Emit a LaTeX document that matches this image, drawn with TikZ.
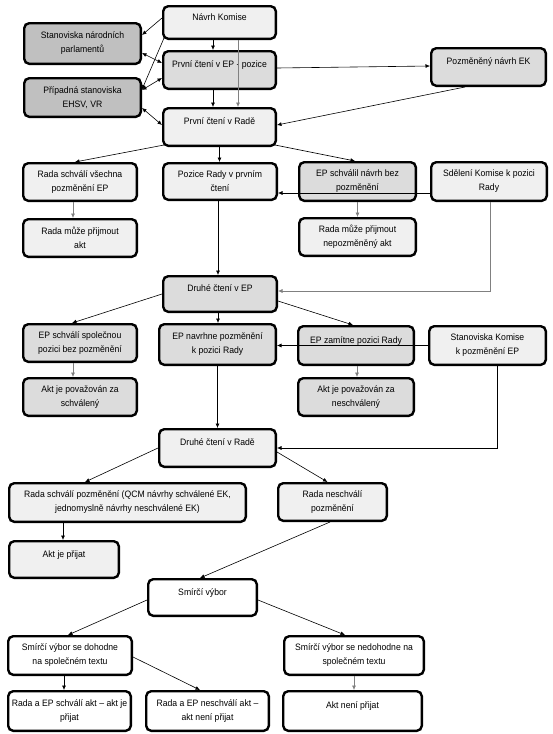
\documentclass[tikz,border=0pt]{standalone}
\usepackage{fontspec}
\setmainfont{Liberation Sans}[FakeStretch=0.93]
\usetikzlibrary{arrows.meta}
\definecolor{lightfill}{HTML}{F0F0F0}
\definecolor{midfill}{HTML}{DCDCDC}
\definecolor{darkfill}{HTML}{C0C0C0}
\definecolor{greyline}{HTML}{808080}

\begin{document}
\begin{tikzpicture}[x=1pt, y=-1pt, ->, >={Latex[length=4.5pt,width=4pt]}, line width=0.6pt,
    box/.style={draw, line width=2.4pt, rounded corners=5pt, align=center, inner sep=2pt,
      font=\fontsize{9.3}{14}\selectfont},
    sz/.style 2 args={minimum width=#1pt-2.4pt, minimum height=#2pt-2.4pt},
    light/.style={box, fill=lightfill},
    mid/.style={box, fill=midfill},
    dark/.style={box, fill=darkfill},
    plain/.style={box, fill=white},
    oneline/.style={text height=7pt, text depth=12pt},
    faint/.style={draw=greyline}]

  \useasboundingbox (0,0) rectangle (552,734);

  % Nodes
  \node[light, oneline, sz={115}{35}] (nk) at (219.5,22.5) {Návrh Komise};
  \node[dark, sz={119}{43}] (snp) at (82.5,43.5) {Stanoviska národních\\parlamentů};
  \node[dark, sz={119}{41}] (ps) at (82.5,97.5) {Případná stanoviska\\EHSV, VR};
  \node[mid, oneline, sz={115}{40}] (pep) at (219.5,70) {První čtení v EP - pozice};
  \node[mid, oneline, sz={117}{40}] (pne) at (488.5,67) {Pozměněný návrh EK};
  \node[light, oneline, sz={115}{40}] (prr) at (219.5,127) {První čtení v Radě};

  \node[light, sz={116}{40}] (rsv) at (80,182) {Rada schválí všechna\\pozměnění EP};
  \node[light, sz={116}{40}] (rma) at (80,238) {Rada může přijmout\\akt};
  \node[light, sz={116}{39}] (pr1) at (220,181.5) {Pozice Rady v prvním\\čtení};
  \node[mid, sz={119}{41}] (eps) at (357.5,181.5) {EP schválil návrh bez\\pozměnění};
  \node[light, sz={119}{40}] (rmn) at (357.5,237) {Rada může přijmout\\nepozměněný akt};
  \node[light, sz={118}{41}] (skr) at (489,181.5) {Sdělení Komise k pozici\\Rady};

  \node[mid, oneline, sz={116}{38}] (dep) at (220,294) {Druhé čtení v EP};
  \node[mid, sz={116}{40}] (eps2) at (80,343) {EP schválí společnou\\pozici bez pozměnění};
  \node[mid, sz={116}{40}] (aps) at (80,397) {Akt je považován za\\schválený};
  \node[mid, sz={119}{43}] (epn) at (217.5,344.5) {EP navrhne pozměnění\\k pozici Rady};
  \node[mid, oneline, sz={118}{41}] (epz) at (356,345.5) {EP zamítne pozici Rady};
  \node[mid, sz={118}{40}] (apn) at (356,397) {Akt je považován za\\neschválený};
  \node[light, sz={119}{41}] (skp) at (487.5,345.5) {Stanoviska Komise\\k pozměnění EP};

  \node[light, oneline, sz={119}{40}] (dr) at (217.5,448) {Druhé čtení v Radě};
  \node[light, sz={239}{41}] (rsp) at (127.5,502.5) {Rada schválí pozměnění (QCM návrhy schválené EK,\\jednomyslně návrhy neschválené EK)};
  \node[light, sz={111}{40}] (rnp) at (332.5,502) {Rada neschválí\\pozměnění};
  \node[light, oneline, sz={112}{39}] (ajp) at (64,559.5) {Akt je přijat};
  \node[plain, oneline, sz={111}{39}] (sv) at (202.5,597.5) {Smírčí výbor};

  \node[plain, sz={126}{41}] (svd) at (70,655.5) {Smírčí výbor se dohodne\\na společném textu};
  \node[plain, sz={142}{41}] (svn) at (354,655.5) {Smírčí výbor se nedohodne na\\společném textu};
  \node[plain, sz={125}{42}] (res) at (69.5,711) {Rada a EP schválí akt – akt je\\přijat};
  \node[plain, sz={125}{42}] (ren) at (207.5,711) {Rada a EP neschválí akt –\\akt není přijat};
  \node[plain, oneline, sz={141}{42}] (anp) at (352.5,711) {Akt není přijat};

  % Directed edges
  \draw ([yshift=4.5pt]nk.west) -- ([yshift=8.5pt]snp.east);
  \draw ([xshift=2pt,yshift=2pt]nk.south west) -- ([yshift=8pt]ps.east);
  \draw[<->] ([yshift=-9.5pt]snp.east) -- ([yshift=7pt]pep.west);
  \draw[<->] ([yshift=7.5pt]ps.east) -- ([yshift=-8pt]pep.west);
  \draw[<->] ([yshift=-10.5pt]ps.east) -- ([yshift=2pt]prr.west);
  \draw ([xshift=-6.5pt]nk.south) -- ([xshift=-6.5pt]pep.north);
  \draw[faint] ([xshift=18.5pt]nk.south) -- ([xshift=18.5pt]prr.north);
  \draw ([xshift=-6.5pt]pep.south) -- ([xshift=-6.5pt]prr.north);
  \draw ([yshift=2pt]pep.east) -- ([yshift=1pt]pne.west);
  \draw ([xshift=-23.5pt]pne.south) -- ([yshift=2pt]prr.east);

  \draw ([xshift=2pt,yshift=2pt]prr.south west) -- ([xshift=-5pt]rsv.north);
  \draw (prr.south) -- (prr.south |- pr1.north);
  \draw ([xshift=-2pt,yshift=2pt]prr.south east) -- ([xshift=-2.5pt]eps.north);
  \draw[faint] ([xshift=-7pt]rsv.south) -- ([xshift=-7pt]rma.north);
  \draw[faint] (eps.south) -- (rmn.north);
  \draw ([yshift=-11.5pt]skr.west) -- ([yshift=-11.5pt]pr1.east);
  \draw ([xshift=-2pt]pr1.south) -- ([xshift=-2pt]dep.north);
  \draw[faint] ([xshift=1pt]skr.south) |- ([yshift=3pt]dep.east);

  \draw (dep.west) -- ([xshift=-8pt]eps2.north);
  \draw ([xshift=-2pt]dep.south) -- ([xshift=0.5pt]epn.north);
  \draw ([yshift=-7pt]dep.east) -- ([xshift=-3pt]epz.north);
  \draw[faint] ([xshift=-7pt]eps2.south) -- ([xshift=-7pt]aps.north);
  \draw[faint] ([xshift=1pt]epz.south) -- ([xshift=1pt]apn.north);
  \draw (skp.west) -- (skp.west -| epn.east);
  \draw (epn.south) -- (dr.north);
  \draw ([xshift=9.5pt]skp.south) |- (dr.east);

  \draw (dr.west) -- ([xshift=-42.5pt]rsp.north);
  \draw ([yshift=-4pt]dr.east) -- ([xshift=-5pt]rnp.north);
  \draw ([xshift=-64.5pt]rsp.south) -- ([xshift=-1pt]ajp.north);
  \draw ([xshift=-2.5pt]rnp.south) -- ([xshift=-2.5pt]sv.north);
  \draw ([yshift=-2.5pt]sv.west) -- ([xshift=-2pt]svd.north);
  \draw ([yshift=-2.5pt]sv.east) -- ([xshift=-9pt]svn.north);
  \draw ([xshift=-6pt]svd.south) -- ([xshift=-5.5pt]res.north);
  \draw ([yshift=-1.5pt]svd.east) -- ([xshift=-7.5pt]ren.north);
  \draw[faint] (svn.south) -- (svn.south |- anp.north);

\end{tikzpicture}
\end{document}
